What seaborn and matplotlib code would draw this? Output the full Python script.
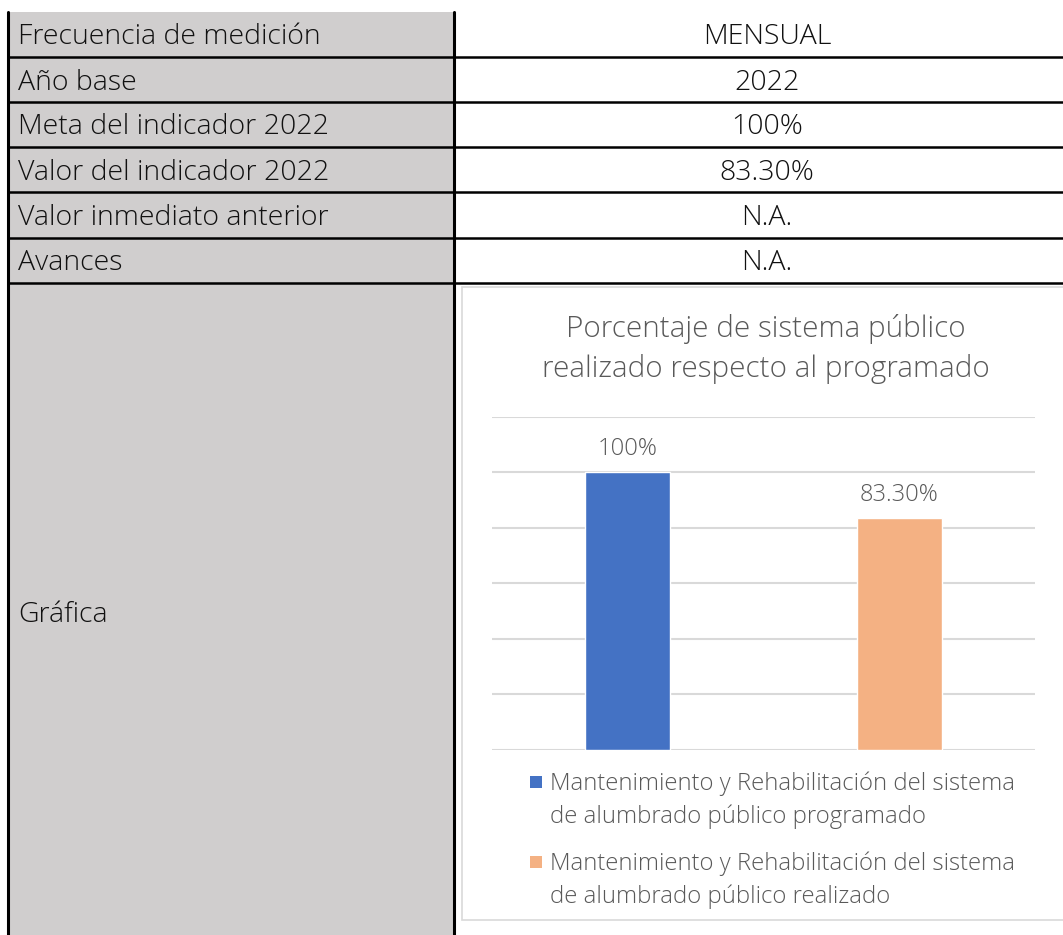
import matplotlib
matplotlib.use('Agg')
import matplotlib.pyplot as plt
from matplotlib.patches import Rectangle
from matplotlib.lines import Line2D
import seaborn as sns

# ---- data ----
row_labels = ['Frecuencia de medición', 'Año base', 'Meta del indicador 2022',
              'Valor del indicador 2022', 'Valor inmediato anterior', 'Avances']
row_values = ['MENSUAL', '2022', '100%', '83.30%', 'N.A.', 'N.A.']
chart_row_label = 'Gráfica'

bar_names = ['Mantenimiento y Rehabilitación del sistema\nde alumbrado público programado',
             'Mantenimiento y Rehabilitación del sistema\nde alumbrado público realizado']
bar_values = [1.00, 0.833]
bar_text = ['100%', '83.30%']
bar_colors = ['#4472C4', '#F4B183']
chart_title = 'Porcentaje de sistema público\nrealizado respecto al programado'

W, H = 1063, 935
GRAY = '#D0CECE'
TXT = '#111111'
CHART_TXT = '#595959'
GRID = '#D9D9D9'

sns.set_style('white')
plt.rcParams['font.family'] = ['Open Sans', 'DejaVu Sans']

fig = plt.figure(figsize=(W / 100, H / 100), dpi=100)

def fx(x):
    return x / W

def fy(y):
    return 1 - y / H

# ---- table background ----
top, left, mid = 12, 8, 454
row_edges = [12, 57, 102, 147, 192, 238, 283]
fig.patches.append(Rectangle((fx(left), 0), fx(mid - left), fy(top), transform=fig.transFigure,
                             facecolor=GRAY, edgecolor='none', zorder=0))

for y in row_edges[1:]:
    fig.lines.append(Line2D([fx(left), 1], [fy(y), fy(y)], transform=fig.transFigure,
                            color='black', lw=1.8, zorder=3))
for x in [left, mid]:
    fig.lines.append(Line2D([fx(x), fx(x)], [0, fy(top)], transform=fig.transFigure,
                            color='black', lw=2.2, zorder=3))

for i, (lab, val) in enumerate(zip(row_labels, row_values)):
    yc = (row_edges[i] + row_edges[i + 1]) / 2 + 3
    fig.text(fx(18), fy(yc), lab, ha='left', va='center', fontsize=20.5, color=TXT,
             fontweight='light')
    fig.text(fx(767), fy(yc), val, ha='center', va='center', fontsize=20.5, color=TXT,
             fontweight='light')

fig.text(fx(18), fy(615), chart_row_label, ha='left', va='center', fontsize=20.5, color=TXT,
         fontweight='light')

# ---- chart frame ----
fig.patches.append(Rectangle((fx(462), fy(920)), 1 - fx(462) + 0.01, fy(287) - fy(920),
                             transform=fig.transFigure, facecolor='white',
                             edgecolor=GRID, lw=1.2, zorder=1))

fig.text(fx(766), fy(349), chart_title, ha='center', va='center', fontsize=21.3,
         color=CHART_TXT, fontweight='light', linespacing=1.42)

# ---- bar chart ----
px0, px1, py_top, py_base = 492, 1035, 416.5, 750
ax = fig.add_axes([fx(px0), fy(py_base), fx(px1 - px0), fy(py_top) - fy(py_base)])
ax.set_zorder(2)
sns.barplot(x=bar_names, y=bar_values, hue=bar_names, palette=bar_colors,
            width=0.313, legend=False, ax=ax, saturation=1)
ax.set_ylim(0, 1.2)
ax.set_xlim(-0.5, 1.5)
ax.set_yticks([0, 0.2, 0.4, 0.6, 0.8, 1.0, 1.2])
ax.yaxis.grid(True, color=GRID, lw=1.5)
ax.set_axisbelow(True)
ax.tick_params(left=False, bottom=False, labelleft=False, labelbottom=False)
ax.set_xlabel('')
ax.set_ylabel('')
for s in ax.spines.values():
    s.set_visible(False)
ax.patch.set_alpha(0)
for i, (v, t) in enumerate(zip(bar_values, bar_text)):
    ax.annotate(t, (i, v), xytext=(0, 8), textcoords='offset points', ha='center',
                va='bottom', fontsize=17, color=CHART_TXT, fontweight='light')

# ---- legend ----
leg_rows = [782, 862]
for name, col, yl in zip(bar_names, bar_colors, leg_rows):
    fig.patches.append(Rectangle((fx(530), fy(yl + 6)), fx(12), fy(yl - 6) - fy(yl + 6),
                                 transform=fig.transFigure, facecolor=col,
                                 edgecolor='none', zorder=4))
    fig.text(fx(550), fy(yl - 11), name, ha='left', va='top', fontsize=17.2,
             color=CHART_TXT, fontweight='light', linespacing=1.5, zorder=4)

fig.savefig('out.png', dpi=100)
